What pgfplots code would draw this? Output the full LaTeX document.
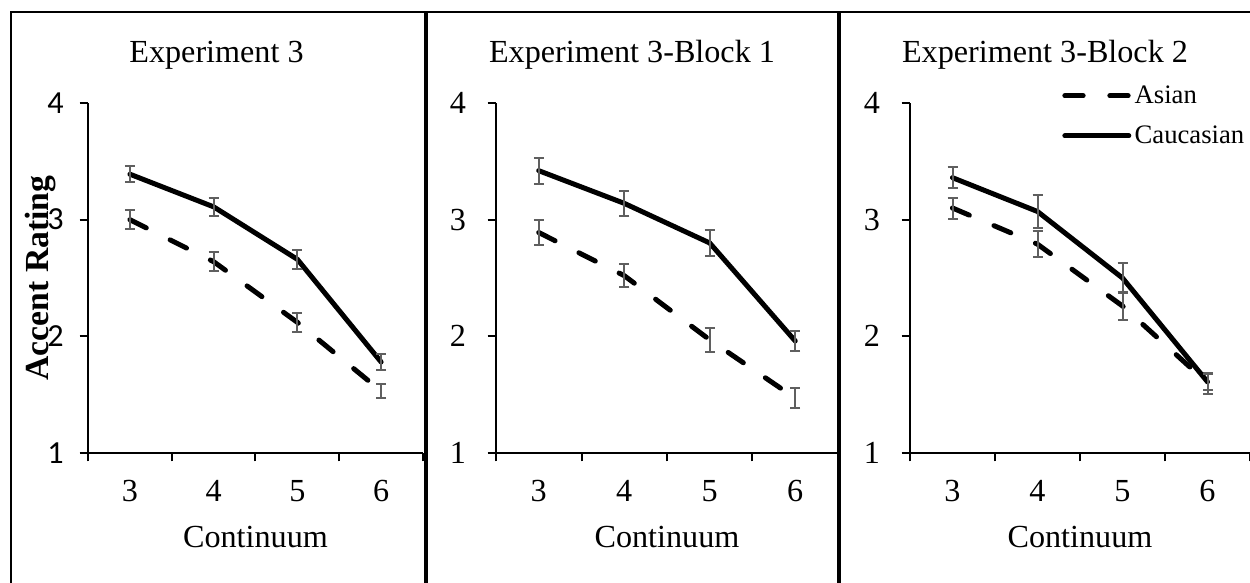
\documentclass[border=0pt]{standalone}
\usepackage{fontspec}
\setmainfont{Liberation Serif}
\newfontfamily\calib{Carlito}
\usepackage{pgfplots}
\pgfplotsset{compat=1.18}
\definecolor{errgray}{HTML}{5F5F5F}
\newcommand\bigf{\fontsize{19.3}{22}\selectfont}
\pgfplotsset{
  myaxis/.style={
    scale only axis, height=210pt,
    xmin=2.5, xmax=6.5, ymin=1, ymax=4,
    axis x line*=bottom, axis y line*=left,
    axis line style={-, line width=1.2pt, black},
    xtick={3,4,5,6}, ytick={1,2,3,4},
    xtick style={draw=none},
    extra x ticks={2.5,3.5,4.5,5.5,6.5}, extra x tick labels={},
    extra x tick style={xtick style={draw=black, line width=1.2pt}},
    ytick style={line width=1.2pt, black},
    tick align=outside, major tick length=5pt,
    /pgf/number format/assume math mode=true,
    tick label style={font=\bigf},
    xticklabel style={anchor=center, yshift=-18pt},
    yticklabel style={anchor=east, xshift=-9.5pt},
    xlabel={Continuum},
    xlabel style={font=\bigf, at={(axis description cs:0.5,-0.24)}, anchor=center},
    clip=false,
  },
  asian/.style={black, line width=3pt, line cap=round, dash pattern=on 11pt off 16pt,
    error bars/.cd, y dir=both, y explicit,
    error bar style={solid, line cap=butt, line width=1.2pt, color=errgray},
    error mark options={rotate=90, mark size=3pt, line width=1.2pt, color=errgray, solid, line cap=butt}},
  cauc/.style={black, line width=3pt, line cap=round,
    error bars/.cd, y dir=both, y explicit,
    error bar style={solid, line cap=butt, line width=1.2pt, color=errgray},
    error mark options={rotate=90, mark size=3pt, line width=1.2pt, color=errgray, solid, line cap=butt}},
}
\begin{document}
\begin{tikzpicture}
\useasboundingbox (0,0) rectangle (750pt,349.2pt);
% panel frames
\draw[line width=1.2pt] (6.5pt,-5pt) -- (6.5pt,342pt) -- (760pt,342pt);
\draw[line width=2pt] (255.6pt,-5pt) -- (255.6pt,342pt);
\draw[line width=2pt] (503.4pt,-5pt) -- (503.4pt,342pt);
% titles
\node[anchor=base, font=\bigf] at (129.9pt,312pt) {Experiment 3};
\node[anchor=base, font=\bigf] at (379.2pt,312pt) {Experiment 3-Block 1};
\node[anchor=base, font=\bigf] at (627pt,312pt) {Experiment 3-Block 2};

% Panel 1
\begin{axis}[myaxis, at={(52.8pt,77.4pt)}, anchor=south west, width=201pt,
  yticklabel style={font=\calib\bigf, xshift=3.5pt},
  ylabel={Accent Rating},
  ylabel style={font=\fontsize{20.2}{24}\selectfont\bfseries, at={(axis description cs:-0.143,0.5)}, anchor=center}]
\addplot[asian] coordinates {
 (3,3.00) +- (0,0.08)
 (4,2.64) +- (0,0.08)
 (5,2.12) +- (0,0.08)
 (6,1.53) +- (0,0.06)
};
\addplot[cauc] coordinates {
 (3,3.39) +- (0,0.07)
 (4,3.11) +- (0,0.08)
 (5,2.66) +- (0,0.08)
 (6,1.78) +- (0,0.065)
};
\end{axis}

% Panel 2
\begin{axis}[myaxis, at={(297.6pt,77.4pt)}, anchor=south west, width=205.2pt]
\addplot[asian] coordinates {
 (3,2.89) +- (0,0.11)
 (4,2.52) +- (0,0.10)
 (5,1.97) +- (0,0.105)
 (6,1.47) +- (0,0.085)
};
\addplot[cauc] coordinates {
 (3,3.42) +- (0,0.11)
 (4,3.14) +- (0,0.105)
 (5,2.80) +- (0,0.11)
 (6,1.96) +- (0,0.085)
};
\end{axis}

% Panel 3
\begin{axis}[myaxis, at={(546pt,77.4pt)}, anchor=south west, width=204pt,
  legend style={at={(axis description cs:0.447,1.06)}, anchor=north west,
    draw=none, fill=none, font=\fontsize{16}{18}\selectfont,
    inner sep=0pt, row sep=8pt, cells={anchor=west}},
  legend image code/.code={\draw[#1] (1.5pt,0pt) -- (39.9pt,0pt);}]
\addplot[asian] coordinates {
 (3,3.10) +- (0,0.09)
 (4,2.79) +- (0,0.11)
 (5,2.26) +- (0,0.12)
 (6,1.60) +- (0,0.09)
};
\addlegendentry{Asian}
\addplot[cauc] coordinates {
 (3,3.36) +- (0,0.09)
 (4,3.07) +- (0,0.14)
 (5,2.50) +- (0,0.13)
 (6,1.61) +- (0,0.07)
};
\addlegendentry{Caucasian}
\end{axis}
\end{tikzpicture}
\end{document}
